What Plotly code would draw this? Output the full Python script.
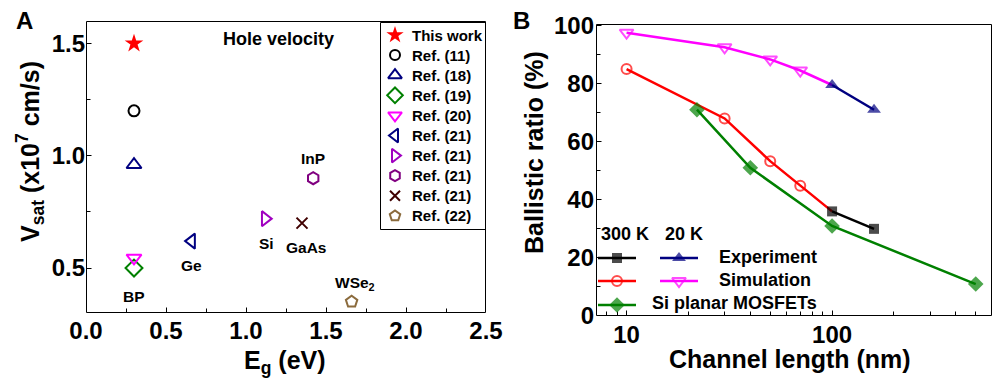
import math
import plotly.graph_objects as go

# ---------------- Panel A data ----------------
ref_names = ["This work", "Ref. (11)", "Ref. (18)", "Ref. (19)", "Ref. (20)",
             "Ref. (21)", "Ref. (21)", "Ref. (21)", "Ref. (21)", "Ref. (22)"]
eg_values = [0.30, 0.30, 0.30, 0.30, 0.30, 0.66, 1.12, 1.42, 1.35, 1.66]
vsat_values = [1.50, 1.20, 0.96, 0.50, 0.545, 0.62, 0.72, 0.90, 0.70, 0.35]
material_labels = ["BP", "Ge", "Si", "InP", "GaAs", "WSe<sub>2</sub>"]
material_eg = [0.30, 0.66, 1.13, 1.42, 1.38, 1.68]
material_v = [0.375, 0.51, 0.61, 0.99, 0.59, 0.43]
a_xticks = [0.0, 0.5, 1.0, 1.5, 2.0, 2.5]
a_xminor = [0.25, 0.75, 1.25, 1.75, 2.25]
a_yticks = [0.5, 1.0, 1.5]
a_yminor = [0.75, 1.25]

# ---------------- Panel B data ----------------
exp300_len = [100, 160]
exp300_ratio = [36, 30]
exp20_len = [100, 160]
exp20_ratio = [79.5, 71]
sim300_len = [10, 30, 50, 70, 100]
sim300_ratio = [85, 68, 53.3, 44.8, 36]
sim20_len = [10, 30, 50, 70, 100]
sim20_ratio = [97.5, 92.5, 88.3, 84.5, 79.5]
si_len = [22, 40, 100, 500]
si_ratio = [71, 51, 31, 11]
b_xticks = [10, 100]
b_xminor = [8, 9, 20, 30, 40, 50, 60, 70, 80, 90, 200, 300, 400, 500]
b_yticks = [0, 20, 40, 60, 80, 100]
b_yminor = [10, 30, 50, 70, 90]

W, H = 1005, 385
FONT = "Liberation Sans, Arial, sans-serif"

# plot-area geometry (pixels)
A_L, A_R, A_T, A_B = 86, 486, 21, 313
B_L, B_R, B_T, B_B = 596, 992, 24, 316
A_XR = [0, 2.5]
A_YR = [0.3, 1.6]
B_XR = [math.log10(7.1), math.log10(600)]
B_YR = [0, 100.5]

def px_x(p):
    return p / W

def px_y(p):
    return 1 - p / H

# pixel <-> data helpers (for frame, ticks and legend keys)
def a_x(p):
    return A_XR[0] + (p - A_L) / (A_R - A_L) * (A_XR[1] - A_XR[0])

def a_y(p):
    return A_YR[1] - (p - A_T) / (A_B - A_T) * (A_YR[1] - A_YR[0])

def a_xp(v):
    return A_L + (v - A_XR[0]) / (A_XR[1] - A_XR[0]) * (A_R - A_L)

def a_yp(v):
    return A_T + (A_YR[1] - v) / (A_YR[1] - A_YR[0]) * (A_B - A_T)

def b_x(p):
    return 10 ** (B_XR[0] + (p - B_L) / (B_R - B_L) * (B_XR[1] - B_XR[0]))

def b_y(p):
    return B_YR[1] - (p - B_T) / (B_B - B_T) * (B_YR[1] - B_YR[0])

def b_xp(v):
    return B_L + (math.log10(v) - B_XR[0]) / (B_XR[1] - B_XR[0]) * (B_R - B_L)

def b_yp(v):
    return B_T + (B_YR[1] - v) / (B_YR[1] - B_YR[0]) * (B_B - B_T)

styles = [
    dict(symbol="star", color="#ff0000", size=14, lw=0),
    dict(symbol="circle-open", color="#000000", size=11, lw=2),
    dict(symbol="triangle-up-open", color="#000080", size=13, lw=2),
    dict(symbol="diamond-open", color="#008000", size=13, lw=2),
    dict(symbol="triangle-down-open", color="#ff00ff", size=13, lw=2),
    dict(symbol="triangle-left-open", color="#000080", size=13, lw=2),
    dict(symbol="triangle-right-open", color="#a000c0", size=13, lw=2),
    dict(symbol="hexagon-open", color="#800080", size=12, lw=2),
    dict(symbol="x-thin-open", color="#400000", size=11, lw=2),
    dict(symbol="pentagon-open", color="#8b6b3d", size=12, lw=2),
]

fig = go.Figure()

# ---- frames & tick marks (pixel-aligned polylines) ----
def seg_trace(segs, fx, fy, xa, ya):
    xs, ys = [], []
    for (p0, q0), (p1, q1) in segs:
        xs += [fx(p0), fx(p1), None]
        ys += [fy(q0), fy(q1), None]
    return go.Scatter(x=xs, y=ys, mode="lines", xaxis=xa, yaxis=ya, showlegend=False,
                      hoverinfo="skip", line=dict(color="black", width=1))

def frame_segs(L, R, T, B):
    l, r, t, b = L + 0.5, R - 0.5, T + 0.5, B - 0.5
    return [((l, t), (r, t)), ((r, t), (r, b)), ((r, b), (l, b)), ((l, b), (l, t))]

def tick_segs(L, T, B, xpix, ypix, xmaj, xmin, ymaj, ymin):
    segs = []
    for vals, ln in ((xmaj, 5), (xmin, 4)):
        for v in vals:
            p = math.floor(xpix(v)) + 0.5
            segs.append(((p, B - 0.5), (p, B - 0.5 - ln)))
    for vals, ln in ((ymaj, 5), (ymin, 4)):
        for v in vals:
            q = math.floor(ypix(v)) + 0.5
            segs.append(((L + 0.5, q), (L + 0.5 + ln, q)))
    return segs

fig.add_trace(seg_trace(frame_segs(A_L, A_R, A_T, A_B) +
                        tick_segs(A_L, A_T, A_B, a_xp, a_yp, a_xticks[1:-1], a_xminor,
                                  a_yticks, a_yminor) +
                        [((380.5, 22.5), (380.5, 229.5)), ((380.5, 22.5), (A_R - 0.5, 22.5)),
                         ((380.5, 229.5), (A_R - 0.5, 229.5))],
                        a_x, a_y, "x", "y"))
fig.add_trace(seg_trace(frame_segs(B_L, B_R, B_T, B_B) +
                        tick_segs(B_L, B_T, B_B, b_xp, b_yp, b_xticks, b_xminor,
                                  b_yticks[1:], b_yminor),
                        b_x, b_y, "x2", "y2"))

# ---- Panel A data ----
for name, xv, yv, st in zip(ref_names, eg_values, vsat_values, styles):
    fig.add_trace(go.Scatter(
        x=[xv], y=[yv], mode="markers", name=name, xaxis="x", yaxis="y",
        marker=dict(symbol=st["symbol"], color=st["color"], size=st["size"],
                    line=dict(width=st["lw"], color=st["color"])),
        showlegend=False, cliponaxis=False))

# ---- Panel B data ----
def b_trace(xs, ys, color, symbol, size, hide_last=False, lw=2):
    sizes = [size] * len(xs)
    if hide_last:
        sizes[-1] = 0
    return go.Scatter(
        x=xs, y=ys, mode="lines+markers", xaxis="x2", yaxis="y2", showlegend=False,
        line=dict(color=color, width=2.5),
        marker=dict(symbol=symbol, color=color, size=sizes, line=dict(width=lw, color=color)),
        cliponaxis=False)

fig.add_trace(b_trace(sim20_len, sim20_ratio, "#ff00ff", "triangle-down-open", 12, True))
fig.add_trace(b_trace(sim300_len, sim300_ratio, "#ff0000", "circle-open", 10, True))
fig.add_trace(b_trace(si_len, si_ratio, "#008000", "diamond", 12, lw=0))
fig.add_trace(b_trace(exp300_len, exp300_ratio, "#000000", "square", 10, lw=0))
fig.add_trace(b_trace(exp20_len, exp20_ratio, "#000080", "triangle-up", 12, lw=0))

# ---- Legend keys ----
LEG_A_X, LEG_A_Y0, LEG_A_DY, LEG_A_TX = 395, 35, 20.1, 410
for i, st in enumerate(styles):
    fig.add_trace(go.Scatter(
        x=[a_x(LEG_A_X)], y=[a_y(LEG_A_Y0 + i * LEG_A_DY)], mode="markers",
        xaxis="x", yaxis="y", showlegend=False, hoverinfo="skip", cliponaxis=False,
        marker=dict(symbol=st["symbol"], color=st["color"], size=st["size"] - 1,
                    line=dict(width=st["lw"], color=st["color"]))))

legend_keys = [
    (598, 636, 258, "#000000", "square", 10, 0),
    (660, 698, 258, "#000080", "triangle-up", 12, 0),
    (598, 636, 281, "#ff0000", "circle-open", 10, 2),
    (660, 698, 281, "#ff00ff", "triangle-down-open", 12, 2),
    (598, 636, 305, "#008000", "diamond", 12, 0),
]
for x0, x1, yk, c, sym, sz, mlw in legend_keys:
    fig.add_trace(go.Scatter(
        x=[b_x(x0), b_x((x0 + x1) / 2), b_x(x1)], y=[b_y(yk)] * 3, mode="lines+markers",
        xaxis="x2", yaxis="y2", showlegend=False, hoverinfo="skip", cliponaxis=False,
        line=dict(color=c, width=2.5),
        marker=dict(symbol=sym, color=c, size=[0, sz, 0], line=dict(width=mlw, color=c))))

axis_common = dict(showline=False, ticks="", showgrid=False, zeroline=False,
                   automargin=False,
                   tickfont=dict(family=FONT, size=24, color="black", weight="bold"))

fig.update_layout(
    template="none",
    width=W, height=H, margin=dict(l=0, r=0, t=0, b=0, pad=0, autoexpand=False),
    paper_bgcolor="white", plot_bgcolor="white",
    font=dict(family=FONT, color="black"),
    showlegend=False,
    xaxis=dict(domain=[px_x(A_L), px_x(A_R)], anchor="y", range=A_XR, ticklabelstandoff=1,
               tickvals=a_xticks, ticktext=[f"{v:.1f}" for v in a_xticks], **axis_common),
    yaxis=dict(domain=[px_y(A_B), px_y(A_T)], anchor="x", range=A_YR, ticklabelstandoff=0,
               tickvals=a_yticks, ticktext=[f"{v:.1f}" for v in a_yticks], **axis_common),
    xaxis2=dict(domain=[px_x(B_L), px_x(B_R)], anchor="y2", type="log", range=B_XR,
                ticklabelstandoff=2,
                tickvals=b_xticks, ticktext=[str(v) for v in b_xticks], **axis_common),
    yaxis2=dict(domain=[px_y(B_B), px_y(B_T)], anchor="x2", range=B_YR, ticklabelstandoff=1,
                tickvals=b_yticks, ticktext=[str(v) for v in b_yticks], **axis_common),
)

annots = []
def add_text(text, x, y, size, xref="paper", yref="paper", angle=0, xanchor="center"):
    annots.append(dict(text=text, x=x, y=y, xref=xref, yref=yref, showarrow=False,
                       textangle=angle, xanchor=xanchor, yanchor="middle",
                       font=dict(family=FONT, size=size, color="black", weight="bold")))

add_text("A", px_x(24), px_y(20), 24)
add_text("B", px_x(521), px_y(20), 24)
add_text("V<sub>sat</sub> (x10<sup>7</sup> cm/s)", px_x(30), px_y(152), 25, angle=-90)
add_text("E<sub>g</sub> (eV)", px_x(285), px_y(362), 25)
add_text("Ballistic ratio (%)", px_x(534), px_y(153), 25, angle=-90)
add_text("Channel length (nm)", px_x(790), px_y(359), 25)
add_text("Hole velocity", 1.20, 1.52, 18, xref="x", yref="y")
for lab, xv, yv in zip(material_labels, material_eg, material_v):
    add_text(lab, xv, yv, 15.5, xref="x", yref="y")
for i, name in enumerate(ref_names):
    add_text(name, px_x(LEG_A_TX), px_y(LEG_A_Y0 + i * LEG_A_DY), 15, xanchor="left")
add_text("300 K", px_x(625), px_y(234), 18)
add_text("20 K", px_x(684), px_y(234), 18)
add_text("Experiment", px_x(717), px_y(257), 18, xanchor="left")
add_text("Simulation", px_x(717), px_y(280), 18, xanchor="left")
add_text("Si planar MOSFETs", px_x(650), px_y(303), 18, xanchor="left")

fig.update_layout(annotations=annots)
fig.write_html("out.html", config={"displayModeBar": False},
               post_script="document.body.style.margin='0px';")
